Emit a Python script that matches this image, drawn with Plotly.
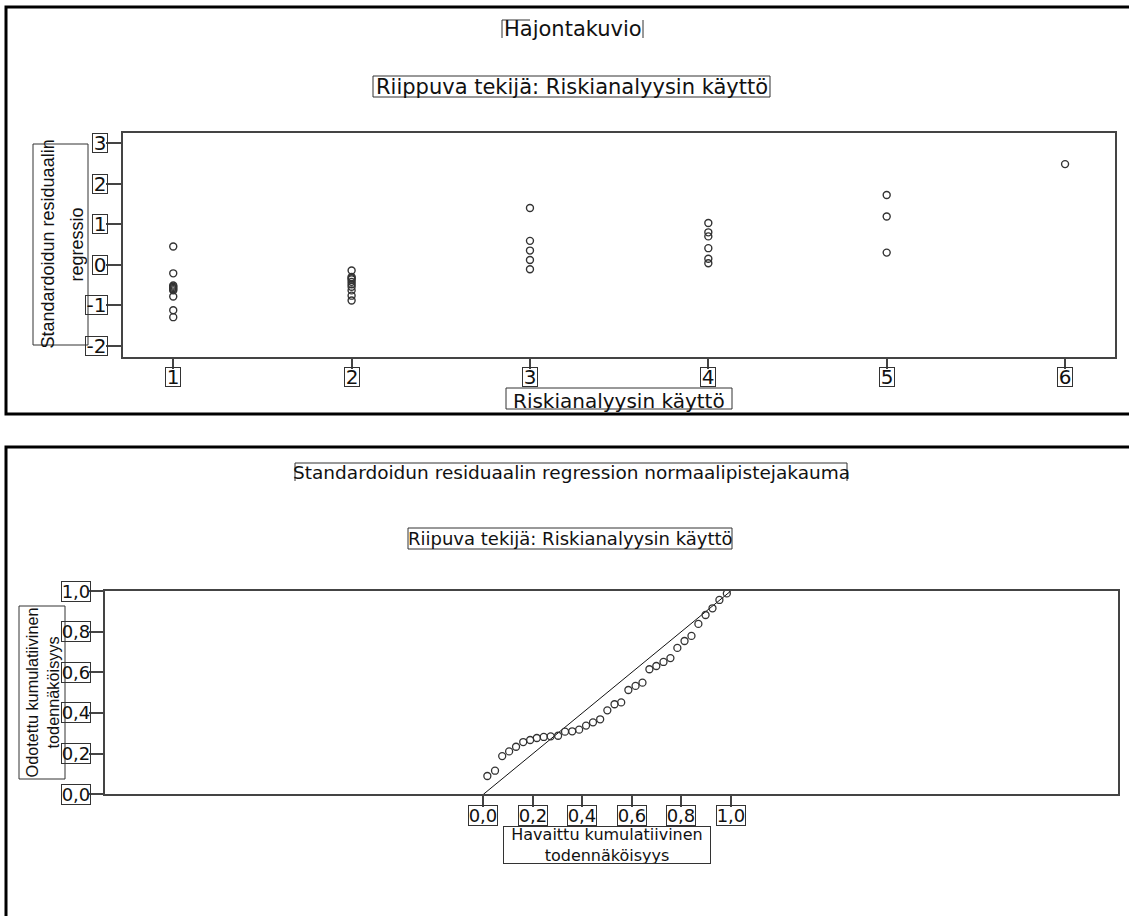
import plotly.graph_objects as go

# ---------------- data ----------------
# Top panel: standardized residual vs. "Riskianalyysin käyttö"
kaytto_1 = [0.45, -0.21, -0.51, -0.54, -0.57, -0.60, -0.63, -0.78, -1.12, -1.29]
kaytto_2 = [-0.14, -0.30, -0.33, -0.36, -0.42, -0.48, -0.54, -0.63, -0.76, -0.88]
kaytto_3 = [1.40, 0.59, 0.35, 0.12, -0.11]
kaytto_4 = [1.03, 0.80, 0.70, 0.41, 0.15, 0.04]
kaytto_5 = [1.72, 1.19, 0.30]
kaytto_6 = [2.48]
top_groups = [1, 2, 3, 4, 5, 6]
top_xticks = [1, 2, 3, 4, 5, 6]
top_yticks = [-2, -1, 0, 1, 2, 3]

# Bottom panel: normal P-P plot
havaittu = [0.016, 0.047, 0.076, 0.104, 0.132, 0.161, 0.189, 0.216, 0.244, 0.272,
            0.302, 0.330, 0.359, 0.387, 0.415, 0.443, 0.472, 0.501, 0.530, 0.557,
            0.586, 0.615, 0.643, 0.671, 0.699, 0.728, 0.756, 0.784, 0.813, 0.841,
            0.869, 0.898, 0.926, 0.954, 0.984]
odotettu = [0.090, 0.116, 0.188, 0.211, 0.234, 0.257, 0.267, 0.277, 0.282, 0.285,
            0.288, 0.308, 0.310, 0.318, 0.338, 0.354, 0.369, 0.413, 0.443, 0.452,
            0.513, 0.533, 0.549, 0.615, 0.631, 0.651, 0.670, 0.720, 0.754, 0.779,
            0.838, 0.882, 0.915, 0.956, 0.988]
diag_x = [0.0, 1.0]
diag_y = [0.0, 1.0]
pp_ticks = [0.0, 0.2, 0.4, 0.6, 0.8, 1.0]
pp_ticklabels = ["0,0", "0,2", "0,4", "0,6", "0,8", "1,0"]

# ---------------- figure ----------------
W, H = 1129, 916


def fx(p):
    return p / W


def fy(p):
    return 1 - p / H


groups = [kaytto_1, kaytto_2, kaytto_3, kaytto_4, kaytto_5, kaytto_6]
top_x, top_y = [], []
for g, vals in zip(top_groups, groups):
    top_x += [g] * len(vals)
    top_y += vals

MK = '#333333'
fig = go.Figure()
fig.add_trace(go.Scatter(
    x=top_x, y=top_y, mode='markers', xaxis='x', yaxis='y',
    marker=dict(symbol='circle-open', size=7, color=MK, line=dict(width=1.4)),
    showlegend=False, hoverinfo='skip'))
fig.add_trace(go.Scatter(
    x=diag_x, y=diag_y, mode='lines', xaxis='x2', yaxis='y2',
    line=dict(color='#111111', width=1), showlegend=False, hoverinfo='skip'))
fig.add_trace(go.Scatter(
    x=havaittu, y=odotettu, mode='markers', xaxis='x2', yaxis='y2',
    marker=dict(symbol='circle-open', size=7, color=MK, line=dict(width=1.3)),
    showlegend=False, hoverinfo='skip'))

AX = dict(showgrid=False, zeroline=False, showline=True, mirror=True,
          linecolor='#444444', linewidth=1.5, ticks='outside',
          tickcolor='#444444', tickwidth=1.5, showticklabels=False)

fig.update_layout(
    width=W, height=H, margin=dict(l=0, r=0, t=0, b=0),
    paper_bgcolor='white', plot_bgcolor='white', showlegend=False,
    xaxis=dict(AX, domain=[fx(123.3), fx(1115)], range=[0.72, 6.28],
               tickvals=top_xticks, ticklen=10, anchor='y'),
    yaxis=dict(AX, domain=[fy(357), fy(132.7)], range=[-2.271, 3.254],
               tickvals=top_yticks, ticklen=16, anchor='x'),
    xaxis2=dict(AX, domain=[fx(104.6), fx(1118)], range=[-1.531, 2.565],
                tickvals=pp_ticks, ticklen=11, anchor='y2'),
    yaxis2=dict(AX, domain=[fy(794.3), fy(591)], range=[0, 1],
                tickvals=pp_ticks, ticklen=13.5, anchor='x2'),
)

shapes = []
annots = []
BOX = '#333333'


def rect(x0, y0, x1, y1, width=1, color=BOX):
    shapes.append(dict(type='rect', xref='paper', yref='paper',
                       x0=fx(x0), x1=fx(x1), y0=fy(y1), y1=fy(y0),
                       line=dict(color=color, width=width), fillcolor='rgba(0,0,0,0)'))


def seg(x0, y0, x1, y1, width=1, color=BOX):
    shapes.append(dict(type='line', xref='paper', yref='paper',
                       x0=fx(x0), x1=fx(x1), y0=fy(y0), y1=fy(y1),
                       line=dict(color=color, width=width)))


def text(t, x, y, size, family='DejaVu Sans', angle=0):
    annots.append(dict(text=t, x=fx(x), y=fy(y), xref='paper', yref='paper',
                       xanchor='center', yanchor='middle', showarrow=False,
                       textangle=angle,
                       font=dict(family=family, size=size, color='#111111')))


def boxed(t, x, y, xref, yref, w, h, size, xanchor='center', family='DejaVu Sans'):
    annots.append(dict(text=t, x=x, y=y, xref=xref, yref=yref,
                       xanchor=xanchor, yanchor='middle', showarrow=False,
                       width=w, height=h, bordercolor=BOX, borderwidth=1, borderpad=0,
                       bgcolor='rgba(255,255,255,0)',
                       font=dict(family=family, size=size, color='#111111')))


# panel frames
rect(6, 7, 1145, 414, width=3, color='#000000')
rect(6, 447, 1145, 935, width=3, color='#000000')

# ---- top panel texts ----
text('Hajontakuvio', 572.5, 29, 21)
seg(502, 20, 502, 38)
seg(643, 20, 643, 38)
seg(502, 20, 530, 20)
text('Riippuva tekijä: Riskianalyysin käyttö', 571.5, 86.5, 21)
rect(373, 76, 770, 97)
rect(33, 144, 88, 345)
text('Standardoidun residuaalin', 47, 244.5, 18, 'Liberation Sans', -90)
text('regressio', 76, 244.5, 18, 'Liberation Sans', -90)
for v in top_xticks:
    boxed(str(v), v, fy(376.5), 'x', 'paper', 14, 18, 20)
for v in top_yticks:
    boxed(str(v), fx(107.5), v, 'paper', 'y',
          21 if v < 0 else 14, 18, 20, xanchor='right')
rect(506, 388, 732, 409)
text('Riskianalyysin käyttö', 619, 400.5, 20)

# ---- bottom panel texts ----
text('Standardoidun residuaalin regression normaalipistejakauma', 571, 472, 18.5)
seg(295, 463, 847, 463)
seg(295, 463, 295, 481)
seg(847, 463, 847, 481)
text('Riipuva tekijä: Riskianalyysin käyttö', 570, 538.5, 18)
rect(408, 528, 732, 549)
rect(19, 606, 65, 779)
text('Odotettu kumulatiivinen', 31, 692.5, 16.3, 'Liberation Sans', -90)
text('todennäköisyys', 52, 692.5, 16.3, 'Liberation Sans', -90)
for v, lab in zip(pp_ticks, pp_ticklabels):
    boxed(lab, fx(91), v, 'paper', 'y2', 28, 19, 18, xanchor='right')
    boxed(lab, v, fy(815), 'x2', 'paper', 28, 19, 18)
boxed('Havaittu kumulatiivinen<br>todennäköisyys', fx(607), fy(844.5), 'paper', 'paper',
      206, 36, 16)

fig.update_layout(shapes=shapes, annotations=annots)
fig.write_html('out.html', config={'displayModeBar': False},
               post_script="document.body.style.margin='0px';"
                           "document.body.style.overflow='hidden';")
